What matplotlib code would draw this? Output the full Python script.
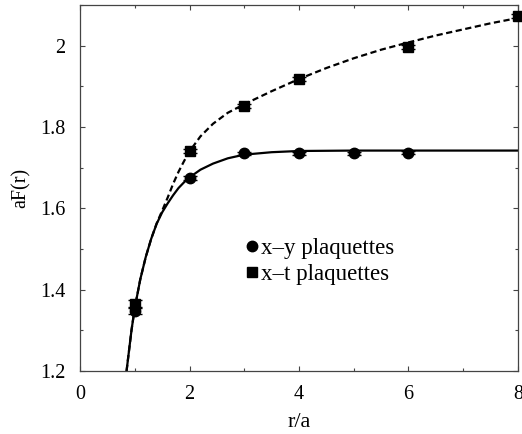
import matplotlib
matplotlib.use("Agg")
import matplotlib.pyplot as plt
from matplotlib.ticker import MultipleLocator
from matplotlib.lines import Line2D

plt.rcParams['font.family'] = ['Liberation Serif', 'DejaVu Serif']

# measured points
r_xy = [1, 2, 3, 4, 5, 6]
F_xy = [1.348, 1.675, 1.735, 1.735, 1.735, 1.737]
err_xy = [0.009, 0.005, 0.004, 0.004, 0.004, 0.004]

r_xt = [1, 2, 3, 4, 6, 8]
F_xt = [1.365, 1.740, 1.852, 1.918, 1.997, 2.073]
err_xt = [0.009, 0.005, 0.005, 0.005, 0.005, 0.005]

# fit curves
fit_xy_r = [0.85, 0.94, 1.0, 1.1, 1.2, 1.3, 1.4, 1.5, 1.6, 1.7, 1.8, 1.9, 2.0, 2.2,
            2.43, 2.7, 3.0, 3.5, 4.0, 5.0, 6.0, 7.0, 8.0]
fit_xy_F = [1.200, 1.300, 1.355, 1.425, 1.480, 1.525, 1.562, 1.590, 1.612, 1.632,
            1.650, 1.664, 1.676, 1.695, 1.710, 1.723, 1.732, 1.738, 1.741, 1.742,
            1.742, 1.742, 1.742]

fit_xt_r = [0.85, 0.94, 1.0, 1.1, 1.2, 1.3, 1.4, 1.5, 1.6, 1.7, 1.8, 1.9, 2.0, 2.2,
            2.43, 2.7, 3.0, 3.5, 4.0, 4.5, 5.0, 5.5, 6.0, 6.5, 7.0, 7.5, 8.0]
fit_xt_F = [1.200, 1.300, 1.355, 1.425, 1.480, 1.525, 1.563, 1.594, 1.626, 1.660,
            1.690, 1.716, 1.740, 1.777, 1.808, 1.835, 1.856, 1.888, 1.918, 1.945,
            1.969, 1.990, 2.008, 2.025, 2.040, 2.055, 2.068]

labels = ['x\u2013y plaquettes', 'x\u2013t plaquettes']

fig = plt.figure(figsize=(5.22, 4.34), dpi=100)
ax = fig.add_axes([0.1533, 0.1452, 0.839, 0.8433])

ax.plot(fit_xy_r, fit_xy_F, color='black', lw=1.6)
ax.plot(fit_xt_r, fit_xt_F, color='black', lw=1.6, ls=(0, (2.8, 1.6)))

ax.errorbar(r_xy, F_xy, yerr=err_xy, fmt='o', color='black', ms=7.5,
            capsize=5.2, elinewidth=1, capthick=1, zorder=3, clip_on=False)
ax.errorbar(r_xt, F_xt, yerr=err_xt, fmt='s', color='black', ms=6.5,
            capsize=5.2, elinewidth=1, capthick=1, zorder=3, clip_on=False)

ax.set_xlim(0, 8)
ax.set_ylim(1.2, 2.1)
ax.xaxis.set_major_locator(MultipleLocator(2))
ax.xaxis.set_minor_locator(MultipleLocator(1))
ax.yaxis.set_minor_locator(MultipleLocator(0.1))
ax.set_yticks([1.2, 1.4, 1.6, 1.8, 2.0])
ax.set_yticklabels(['1.2', '1.4', '1.6', '1.8', '2'])
ax.tick_params(which='both', direction='in', top=True, right=True, labelsize=14.5,
               width=0.8, color='#444444')
ax.tick_params(which='major', length=3.8)
ax.tick_params(which='minor', length=2.0)
ax.tick_params(axis='x', pad=10)
ax.tick_params(axis='y', pad=10.5)
for s in ax.spines.values():
    s.set_linewidth(0.9)
    s.set_color('#444444')

ax.set_xlabel('r/a', fontsize=16)
ax.xaxis.set_label_coords(0.5, -0.115)
ax.set_ylabel('aF(r)', fontsize=14.5)
ax.yaxis.set_label_coords(-0.113, 0.5)

handles = [Line2D([], [], ls='none', marker='o', color='black', ms=7.5),
           Line2D([], [], ls='none', marker='s', color='black', ms=6.5)]
ax.legend(handles, labels, loc='upper left', bbox_to_anchor=(0.359, 0.388),
          frameon=False, fontsize=16.5, handletextpad=0.12, handlelength=0.5,
          labelspacing=0.2, borderaxespad=0)

fig.savefig('out.png', dpi=100)
